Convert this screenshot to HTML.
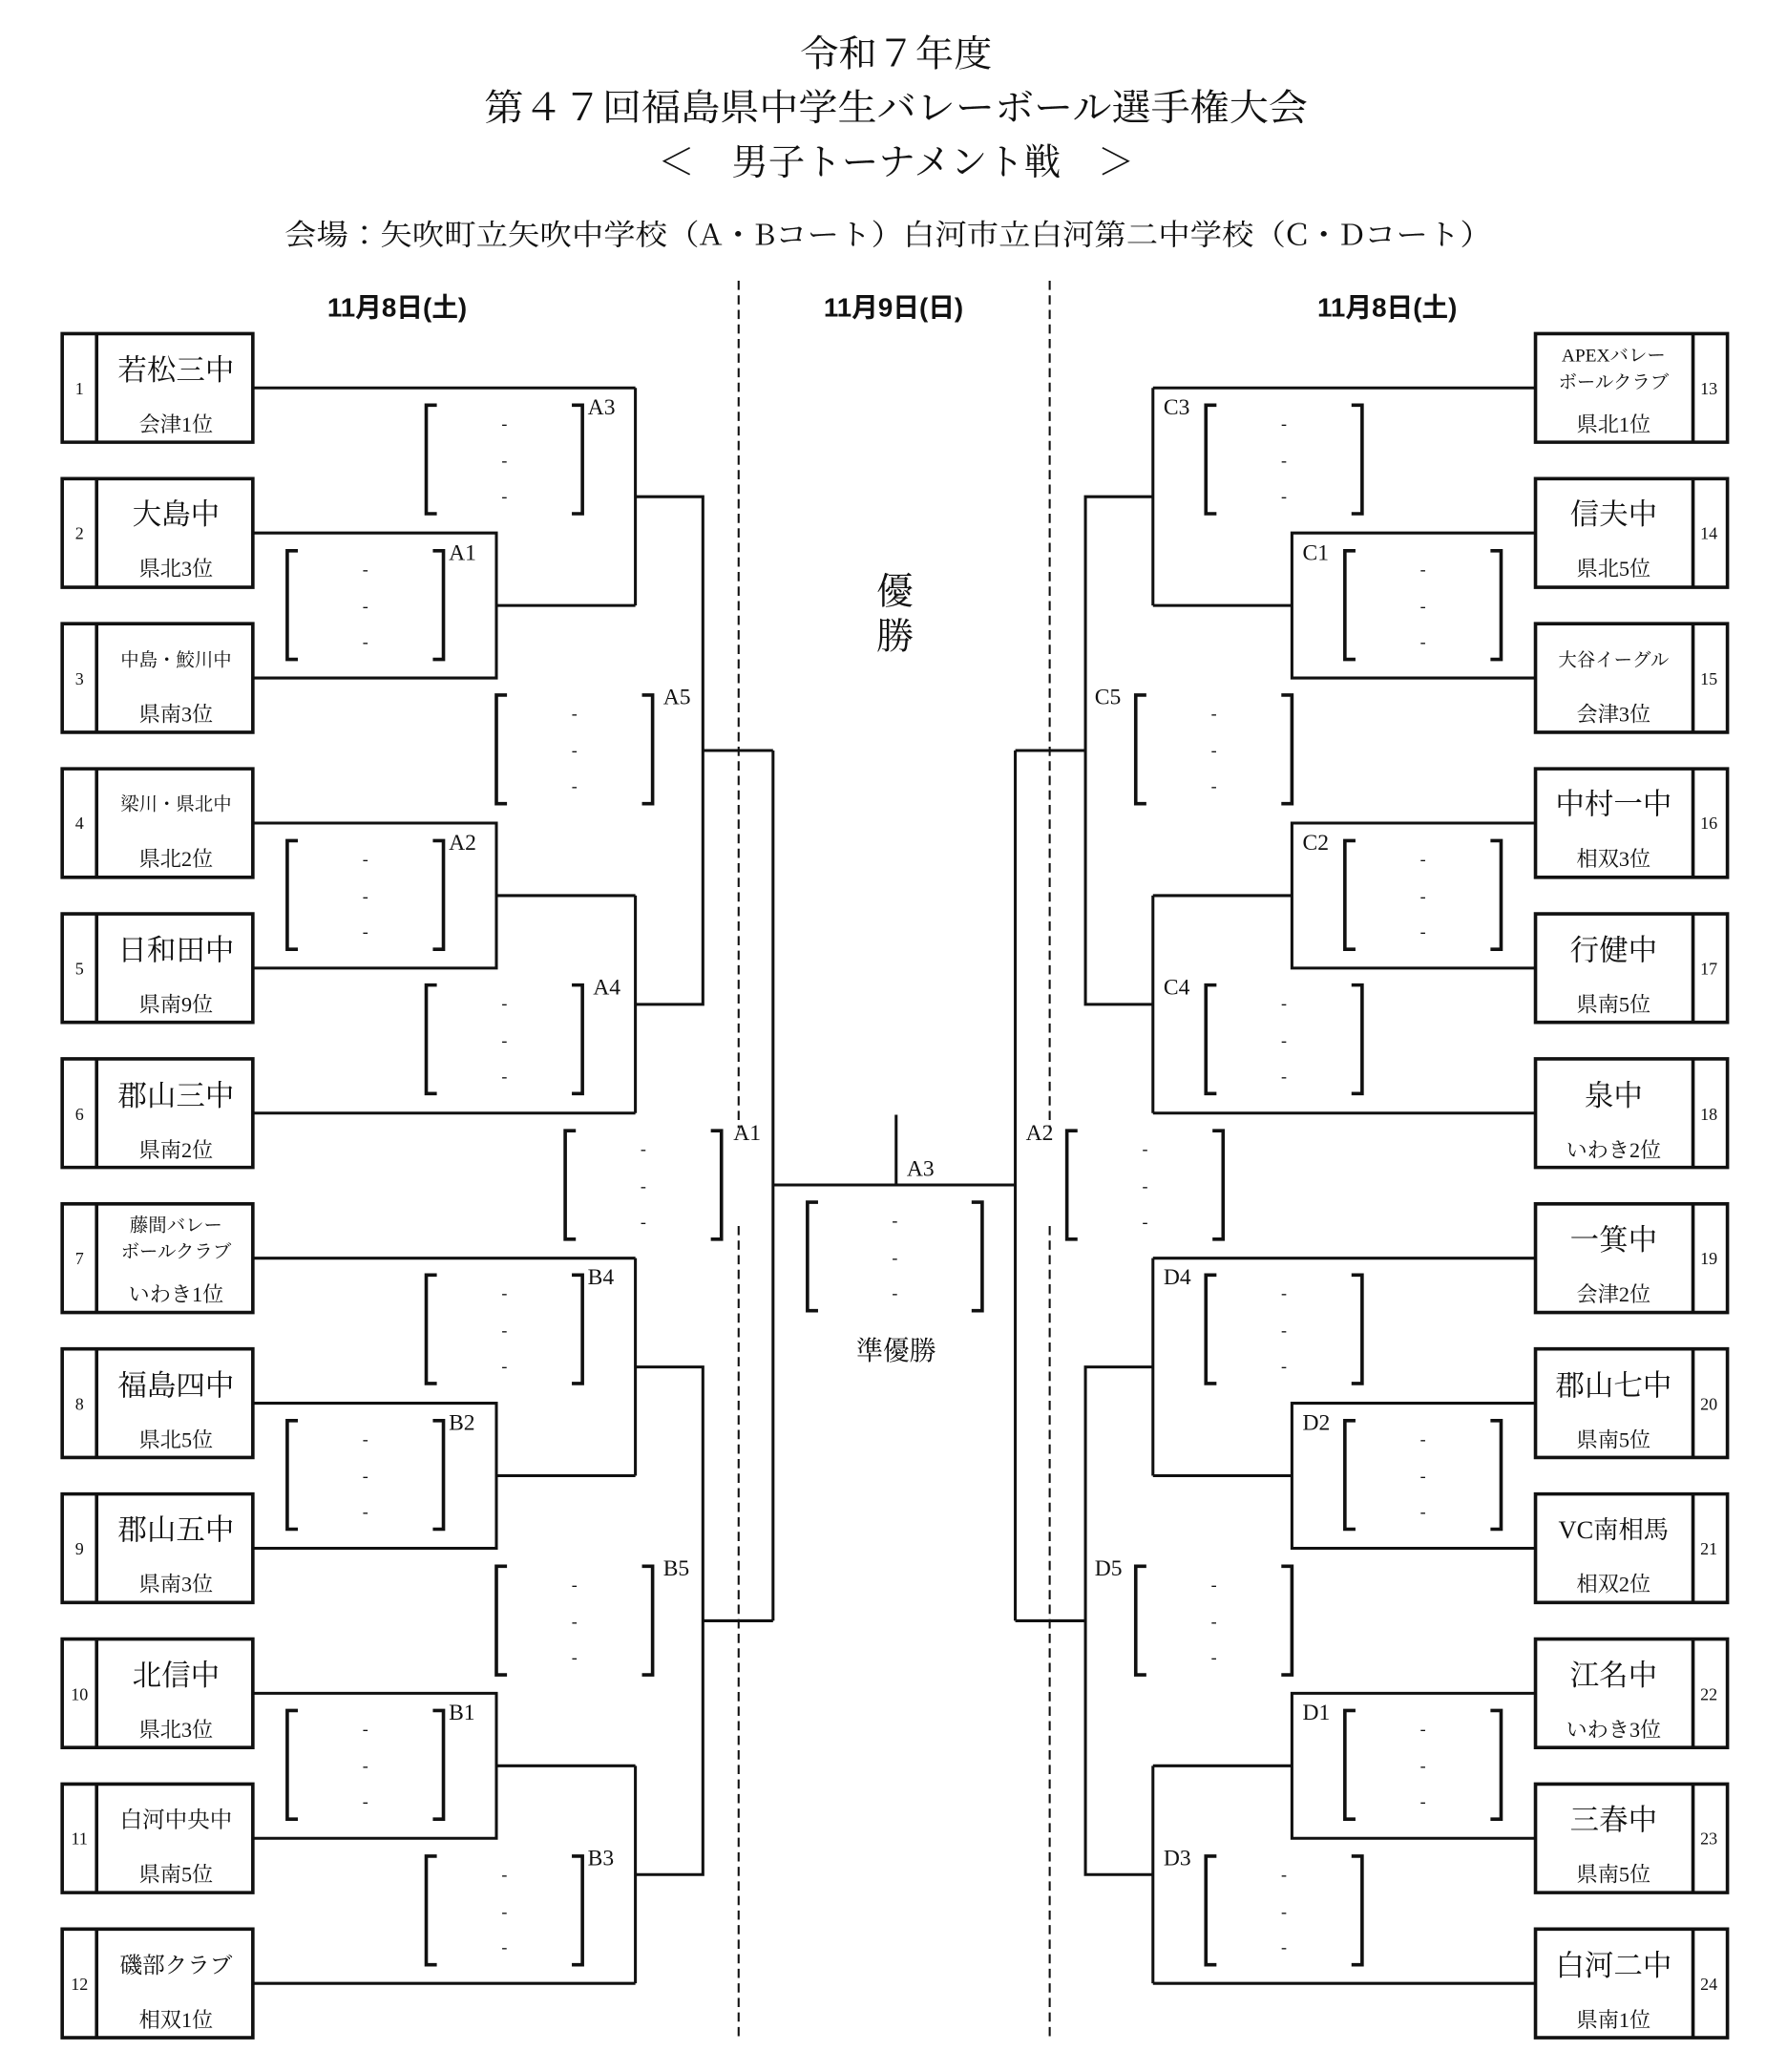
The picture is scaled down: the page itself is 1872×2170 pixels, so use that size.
<!DOCTYPE html>
<html><head><meta charset="utf-8"><style>
html,body{margin:0;padding:0;background:#fff;}
svg{display:block;}
text{font-family:"Liberation Serif","Noto Serif CJK JP",serif;fill:#111;}
.t{font-size:28px;text-anchor:middle;font-family:"Noto Serif CJK JP",serif;}
.v{font-size:22px;text-anchor:middle;font-family:"Noto Serif CJK JP",serif;}
.d{font-size:20px;text-anchor:middle;font-weight:bold;font-family:"Liberation Sans","Noto Sans CJK JP",sans-serif;}
.n{font-size:13px;text-anchor:middle;}
.nm{font-size:22px;text-anchor:middle;}
.sm{font-size:14px;text-anchor:middle;}
.md{font-size:17px;text-anchor:middle;}
.sb{font-size:16px;text-anchor:middle;}
.lb{font-size:17px;}
.ds{font-size:13px;text-anchor:middle;}
</style></head><body>
<svg id="s" width="1872" height="2170" viewBox="0 0 1350 1565" preserveAspectRatio="none" xmlns="http://www.w3.org/2000/svg">
<g id="g" fill="none" stroke="#111" stroke-width="2.2"></g>
<text class="t" x="677" y="50" textLength="145" lengthAdjust="spacingAndGlyphs">令和７年度</text>
<text class="t" x="677" y="91" textLength="622" lengthAdjust="spacingAndGlyphs">第４７回福島県中学生バレーボール選手権大会</text>
<text class="t" x="677" y="132" textLength="360" lengthAdjust="spacingAndGlyphs">＜　男子トーナメント戦　＞</text>
<text class="v" x="671" y="185" textLength="912" lengthAdjust="spacingAndGlyphs">会場：矢吹町立矢吹中学校（A・Bコート）白河市立白河第二中学校（C・Dコート）</text>
<text class="d" x="300" y="239">11月8日(土)</text>
<text class="d" x="675" y="239">11月9日(日)</text>
<text class="d" x="1048" y="239">11月8日(土)</text>

<text class="t" x="676" y="456">優</text>
<text class="t" x="676" y="490">勝</text>
<text class="md" x="677" y="1027" style="font-size:20px">準優勝</text>

<g>
<text class="n" x="60" y="298">1</text><text class="nm" x="133" y="287">若松三中</text><text class="sb" x="133" y="326">会津1位</text>
<text class="n" x="60" y="407">2</text><text class="nm" x="133" y="396">大島中</text><text class="sb" x="133" y="435">県北3位</text>
<text class="n" x="60" y="517">3</text><text class="sm" x="133" y="503">中島・鮫川中</text><text class="sb" x="133" y="545">県南3位</text>
<text class="n" x="60" y="626">4</text><text class="sm" x="133" y="612">梁川・県北中</text><text class="sb" x="133" y="654">県北2位</text>
<text class="n" x="60" y="736">5</text><text class="nm" x="133" y="725">日和田中</text><text class="sb" x="133" y="764">県南9位</text>
<text class="n" x="60" y="846">6</text><text class="nm" x="133" y="835">郡山三中</text><text class="sb" x="133" y="874">県南2位</text>
<text class="n" x="60" y="955">7</text><text class="sm" x="133" y="930">藤間バレー</text><text class="sm" x="133" y="950">ボールクラブ</text><text class="sb" x="133" y="983">いわき1位</text>
<text class="n" x="60" y="1065">8</text><text class="nm" x="133" y="1054">福島四中</text><text class="sb" x="133" y="1093">県北5位</text>
<text class="n" x="60" y="1174">9</text><text class="nm" x="133" y="1163">郡山五中</text><text class="sb" x="133" y="1202">県南3位</text>
<text class="n" x="60" y="1284">10</text><text class="nm" x="133" y="1273">北信中</text><text class="sb" x="133" y="1312">県北3位</text>
<text class="n" x="60" y="1393">11</text><text class="md" x="133" y="1380">白河中央中</text><text class="sb" x="133" y="1421">県南5位</text>
<text class="n" x="60" y="1503">12</text><text class="md" x="133" y="1490">磯部クラブ</text><text class="sb" x="133" y="1531">相双1位</text>
</g>
<g>
<text class="n" x="1291" y="298">13</text><text class="sm" x="1219" y="273">APEXバレー</text><text class="sm" x="1219" y="293">ボールクラブ</text><text class="sb" x="1219" y="326">県北1位</text>
<text class="n" x="1291" y="407">14</text><text class="nm" x="1219" y="396">信夫中</text><text class="sb" x="1219" y="435">県北5位</text>
<text class="n" x="1291" y="517">15</text><text class="sm" x="1219" y="503">大谷イーグル</text><text class="sb" x="1219" y="545">会津3位</text>
<text class="n" x="1291" y="626">16</text><text class="nm" x="1219" y="615">中村一中</text><text class="sb" x="1219" y="654">相双3位</text>
<text class="n" x="1291" y="736">17</text><text class="nm" x="1219" y="725">行健中</text><text class="sb" x="1219" y="764">県南5位</text>
<text class="n" x="1291" y="846">18</text><text class="nm" x="1219" y="835">泉中</text><text class="sb" x="1219" y="874">いわき2位</text>
<text class="n" x="1291" y="955">19</text><text class="nm" x="1219" y="944">一箕中</text><text class="sb" x="1219" y="983">会津2位</text>
<text class="n" x="1291" y="1065">20</text><text class="nm" x="1219" y="1054">郡山七中</text><text class="sb" x="1219" y="1093">県南5位</text>
<text class="n" x="1291" y="1174">21</text><text class="md" x="1219" y="1162" style="font-size:19px">VC南相馬</text><text class="sb" x="1219" y="1202">相双2位</text>
<text class="n" x="1291" y="1284">22</text><text class="nm" x="1219" y="1273">江名中</text><text class="sb" x="1219" y="1312">いわき3位</text>
<text class="n" x="1291" y="1393">23</text><text class="nm" x="1219" y="1382">三春中</text><text class="sb" x="1219" y="1421">県南5位</text>
<text class="n" x="1291" y="1503">24</text><text class="nm" x="1219" y="1492">白河二中</text><text class="sb" x="1219" y="1531">県南1位</text>
</g>
<g class="lbs">
<text class="lb" x="444" y="313">A3</text><text class="lb" x="339" y="423">A1</text><text class="lb" x="501" y="532">A5</text>
<text class="lb" x="339" y="642">A2</text><text class="lb" x="448" y="751">A4</text><text class="lb" x="554" y="861">A1</text>
<text class="lb" x="444" y="970">B4</text><text class="lb" x="339" y="1080">B2</text><text class="lb" x="501" y="1190">B5</text>
<text class="lb" x="339" y="1299">B1</text><text class="lb" x="444" y="1409">B3</text>
<text class="lb" x="685" y="888">A3</text>
<text class="lb" x="879" y="313">C3</text><text class="lb" x="984" y="423">C1</text><text class="lb" x="827" y="532">C5</text>
<text class="lb" x="984" y="642">C2</text><text class="lb" x="879" y="751">C4</text><text class="lb" x="775" y="861">A2</text>
<text class="lb" x="879" y="970">D4</text><text class="lb" x="984" y="1080">D2</text><text class="lb" x="827" y="1190">D5</text>
<text class="lb" x="984" y="1299">D1</text><text class="lb" x="879" y="1409">D3</text>
</g>
<g id="dash"></g>
</svg>
<script>
var g=document.getElementById('g'),ns='http://www.w3.org/2000/svg',dg=document.getElementById('dash');
function P(d,w){var p=document.createElementNS(ns,'path');p.setAttribute('d',d);if(w)p.setAttribute('stroke-width',w);g.appendChild(p);}
function D(x,y){var t=document.createElementNS(ns,'text');t.setAttribute('class','ds');t.setAttribute('x',x);t.setAttribute('y',y);t.textContent='-';dg.appendChild(t);}
var ds=[[558,212,852],[558,926,1540],[793,212,852],[793,926,1540]];
ds.forEach(function(a){var p=document.createElementNS(ns,'path');p.setAttribute('d','M'+a[0]+' '+a[1]+'V'+a[2]);p.setAttribute('stroke-dasharray','7 4');p.setAttribute('stroke-width','1.5');g.appendChild(p);});
var tops=[];for(var i=0;i<12;i++)tops.push(252+i*109.55);
tops.forEach(function(t){
 P('M47 '+t+'H191V'+(t+82)+'H47Z',2.6);P('M73 '+t+'V'+(t+82),2.6);
 P('M1160 '+t+'H1305V'+(t+82)+'H1160Z',2.6);P('M1279 '+t+'V'+(t+82),2.6);
});
var c=tops.map(function(t){return t+41;});
function M(x){return 1351-x;}
function half(o,mir){
 var X=mir?M:function(x){return x;};
 var a=c[o],b=c[o+1],d=c[o+2];
 P('M'+X(191)+' '+a+'H'+X(480));
 P('M'+X(191)+' '+b+'H'+X(375)+'V'+d+'H'+X(191));
 P('M'+X(375)+' '+(b+d)/2+'H'+X(480));
 P('M'+X(480)+' '+a+'V'+(b+d)/2);
}
function half2(o,mir){
 var X=mir?M:function(x){return x;};
 var a=c[o],b=c[o+1],d=c[o+2];
 P('M'+X(191)+' '+a+'H'+X(375)+'V'+b+'H'+X(191));
 P('M'+X(375)+' '+(a+b)/2+'H'+X(480));
 P('M'+X(191)+' '+d+'H'+X(480));
 P('M'+X(480)+' '+(a+b)/2+'V'+d);
}
[false,true].forEach(function(m){
 var X=m?M:function(x){return x;};
 half(0,m);half2(3,m);half(6,m);half2(9,m);
 var q1=(c[0]+(c[1]+c[2])/2)/2, q2=((c[3]+c[4])/2+c[5])/2, q3=(c[6]+(c[7]+c[8])/2)/2, q4=((c[9]+c[10])/2+c[11])/2;
 P('M'+X(480)+' '+q1+'H'+X(531)+'V'+q2+'H'+X(480));
 P('M'+X(480)+' '+q3+'H'+X(531)+'V'+q4+'H'+X(480));
 var h1=(q1+q2)/2,h2=(q3+q4)/2;
 P('M'+X(531)+' '+h1+'H'+X(584));P('M'+X(531)+' '+h2+'H'+X(584));
 P('M'+X(584)+' '+h1+'V'+h2);
});
P('M584 895H767');P('M677 842V895');
function B(x1,x2,y){P('M'+(x1+8)+' '+y+'H'+x1+'V'+(y+82)+'H'+(x1+8),2.6);P('M'+(x2-8)+' '+y+'H'+x2+'V'+(y+82)+'H'+(x2-8),2.6);var m=(x1+x2)/2;D(m,y+18);D(m,y+46);D(m,y+73);}
var br=[[322,440,306],[217,335,416],[375,493,525],[217,335,635],[322,440,744],[427,545,854],[322,440,963],[217,335,1073],[375,493,1183],[217,335,1292],[322,440,1402]];
br.forEach(function(b){B(b[0],b[1],b[2]);B(M(b[1]),M(b[0]),b[2]);});
B(610,742,908);
</script>
</body></html>
